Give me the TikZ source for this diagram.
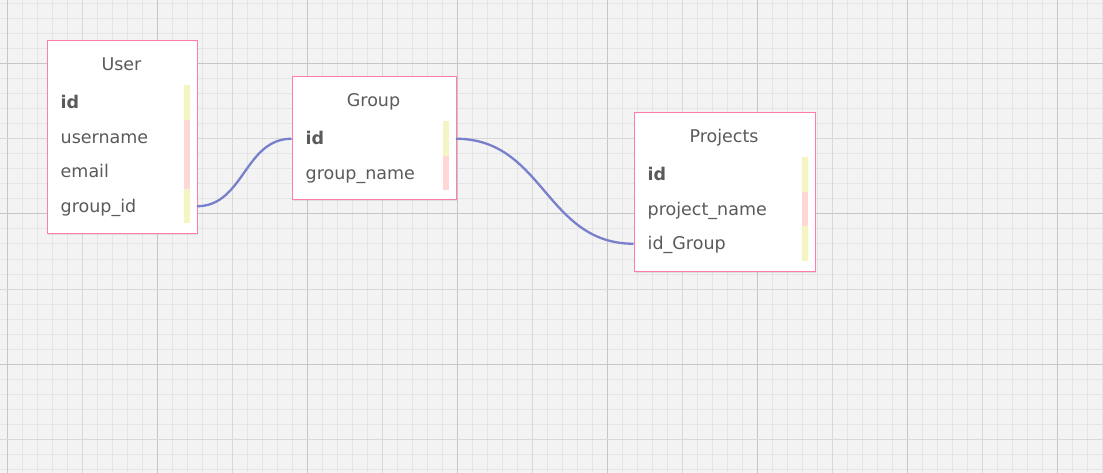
\documentclass[tikz,border=0pt]{standalone}
\usepackage{fontspec}
\setmainfont{DejaVu Sans}
\usetikzlibrary{shadows}
\definecolor{bgc}{HTML}{F3F3F3}
\definecolor{minorc}{HTML}{E5E5E5}
\definecolor{majorl}{HTML}{D8D8D8}
\definecolor{majord}{HTML}{C6C6C6}
\definecolor{boxpink}{HTML}{FF7FAA}
\definecolor{txt}{HTML}{5A5A5A}
\definecolor{keyy}{HTML}{F5F5C4}
\definecolor{fldp}{HTML}{FFD7D7}
\definecolor{linkc}{HTML}{7880CC}
\begin{document}
\begin{tikzpicture}[x=1pt,y=-1pt,
  minorline/.style={draw=minorc,line width=1pt},
  majorlight/.style={draw=majorl,line width=1pt},
  majordark/.style={draw=majord,line width=1pt},
  tbl/.style={draw=boxpink,line width=1pt,fill=white,anchor=north west,inner sep=0pt,
    drop shadow={shadow xshift=1pt,shadow yshift=-1.2pt,opacity=0.18}},
  ttl/.style={anchor=base,text=txt,inner sep=0pt,font=\fontsize{17.5}{20}\selectfont},
  row/.style={anchor=west,inner xsep=14pt,inner ysep=0pt,minimum height=34.5pt,
    text height=12.5pt,text depth=0pt,align=left,text=txt,text width=#1,
    font=\fontsize{17.5}{20}\selectfont},
  keyrow/.style={row=#1,font=\fontsize{17.5}{20}\selectfont\bfseries},
  keybar/.style={fill=keyy},
  fieldbar/.style={fill=fldp},
  link/.style={draw=linkc,line width=2.3pt},
]
\useasboundingbox (0,0) rectangle (1103,473);
% background grid
\fill[bgc] (0,0) rectangle (1103,473);
\foreach \i in {0,...,73} {\draw[minorline] ({7+15*\i},0) -- ({7+15*\i},473);}
\foreach \i in {0,...,31} {\draw[minorline] (0,{4+15*\i}) -- (1103,{4+15*\i});}
\foreach \i in {0,...,6} {\draw[majorlight] ({82+150*\i},0) -- ({82+150*\i},473);}
\foreach \i in {0,...,7} {\draw[majordark] ({7+150*\i},0) -- ({7+150*\i},473);}
\foreach \i in {0,...,2} {\draw[majorlight] (0,{139+150*\i}) -- (1103,{139+150*\i});}
\foreach \i in {0,...,2} {\draw[majordark] (0,{64+150*\i}) -- (1103,{64+150*\i});}

% User table
\node[tbl,minimum width=150pt,minimum height=193pt] (user) at (46.5,40.5) {};
\node[ttl] (usertitle) at (121.5,70.5) {User};
\fill[keybar] (184,85.5) rectangle (190,120);
\fill[fieldbar] (184,120) rectangle (190,189);
\fill[keybar] (184,189) rectangle (190,223.5);
\node[keyrow=122pt] (uid) at (46.5,102.75) {id};
\node[row=122pt] (uname) at (46.5,137.25) {username};
\node[row=122pt] (umail) at (46.5,171.75) {email};
\node[row=122pt] (ugid) at (46.5,206.25) {group\_id};

% Group table
\node[tbl,minimum width=164pt,minimum height=122.5pt] (group) at (291.5,76.5) {};
\node[ttl] (grouptitle) at (373.5,106.5) {Group};
\fill[keybar] (443,121.5) rectangle (449,156);
\fill[fieldbar] (443,156) rectangle (449,190.5);
\node[keyrow=136pt] (gid) at (291.5,138.75) {id};
\node[row=136pt] (gname) at (291.5,173.25) {group\_name};

% Projects table
\node[tbl,minimum width=181pt,minimum height=158.5pt] (proj) at (633.5,112.5) {};
\node[ttl] (projtitle) at (724,142.5) {Projects};
\fill[keybar] (802,157.5) rectangle (808,192);
\fill[fieldbar] (802,192) rectangle (808,226.5);
\fill[keybar] (802,226.5) rectangle (808,261);
\node[keyrow=153pt] (pid) at (633.5,174.75) {id};
\node[row=153pt] (pname) at (633.5,209.25) {project\_name};
\node[row=153pt] (pgid) at (633.5,243.75) {id\_Group};

% connectors
\draw[link] (ugid.east) .. controls +(47,0) and +(-47,0) .. (gid.west);
\draw[link] (gid.east) .. controls +(88,0) and +(-88,0) .. (pgid.west);
\end{tikzpicture}
\end{document}
